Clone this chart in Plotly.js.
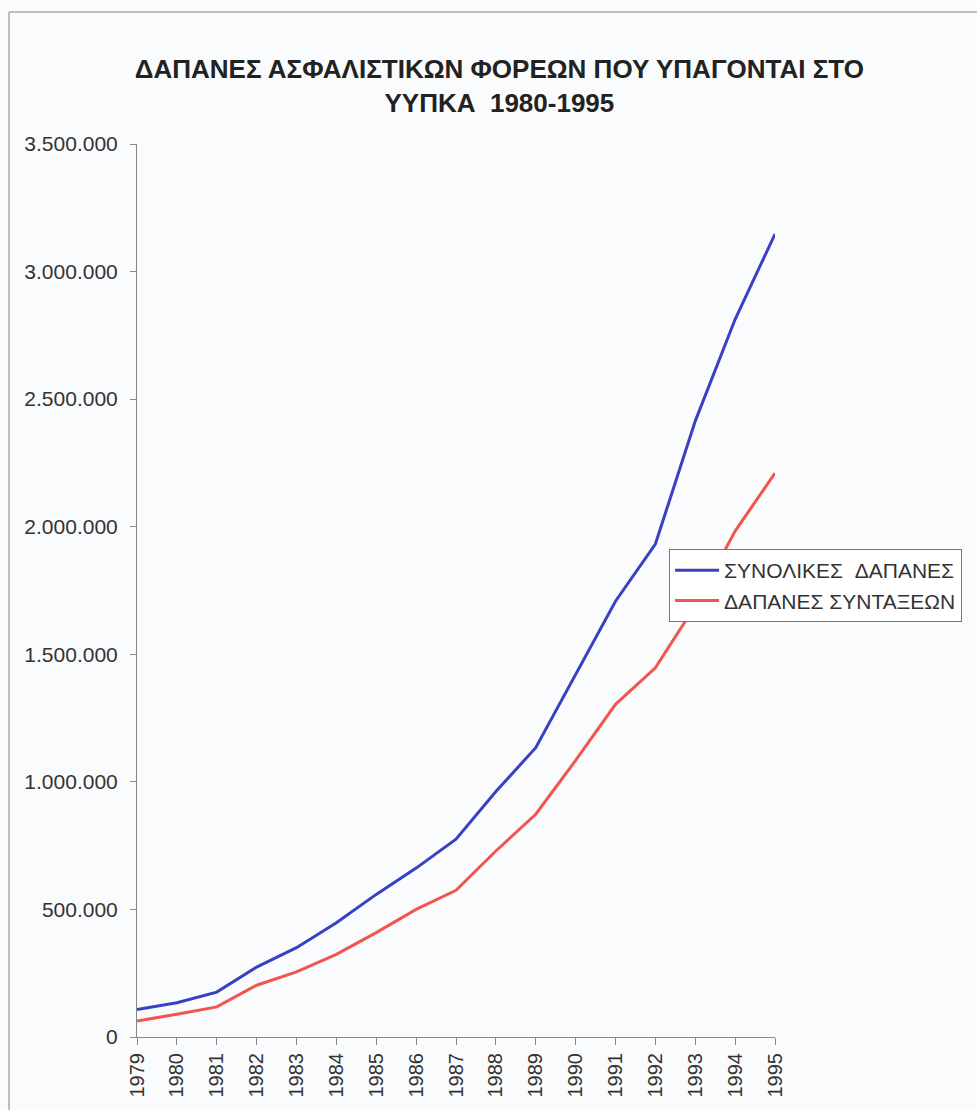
<!DOCTYPE html>
<html>
<head>
<meta charset="utf-8">
<script src="https://cdn.plot.ly/plotly-3.0.1.min.js"></script>
<style>
html,body{margin:0;padding:0;background:#fafbfc;}
#chart{width:977px;height:1110px;}
</style>
</head>
<body>
<div id="chart"></div>
<script>
var years = ["1979","1980","1981","1982","1983","1984","1985","1986","1987","1988","1989","1990","1991","1992","1993","1994","1995"];
var totalExpenses = [108000,134000,176000,274000,350000,448000,559000,662000,775000,962000,1134000,1418000,1708000,1932000,2414000,2813000,3147000];
var pensionExpenses = [63000,89000,118000,203000,255000,324000,409000,500000,575000,729000,873000,1084000,1304000,1447000,1690000,1983000,2210000];
var seriesNames = ["ΣΥΝΟΛΙΚΕΣ\u00a0\u00a0ΔΑΠΑΝΕΣ","ΔΑΠΑΝΕΣ ΣΥΝΤΑΞΕΩΝ"];
var titleText = "ΔΑΠΑΝΕΣ ΑΣΦΑΛΙΣΤΙΚΩΝ ΦΟΡΕΩΝ ΠΟΥ ΥΠΑΓΟΝΤΑΙ ΣΤΟ<br>ΥΥΠΚΑ\u00a0\u00a01980-1995";

var traces = [
  {x: years, y: totalExpenses, name: seriesNames[0], type: 'scatter', mode: 'lines',
   line: {color: '#3a40c4', width: 3}},
  {x: years, y: pensionExpenses, name: seriesNames[1], type: 'scatter', mode: 'lines',
   line: {color: '#f2554d', width: 3}}
];

var layout = {
  width: 977, height: 1110,
  paper_bgcolor: '#fafbfc', plot_bgcolor: 'rgba(0,0,0,0)',
  separators: ',.',
  margin: {l: 137, r: 202, t: 144, b: 73},
  font: {family: 'Liberation Sans, Arial, sans-serif', color: '#333'},
  title: {text: titleText, font: {size: 26, weight: 'bold', color: '#222'},
          x: 0.568, xanchor: 'center', xref: 'paper', y: 1 - 78/1110, yref: 'container', yanchor: 'top'},
  showlegend: true,
  legend: {x: 0.834, xanchor: 'left', y: 0.5465, yanchor: 'top', bgcolor: '#ffffff',
           bordercolor: '#777', borderwidth: 1, font: {size: 21, color: '#333'}, tracegroupgap: 0,
           itemwidth: 44},
  xaxis: {type: 'category', range: [0, 16], showgrid: false, zeroline: false,
          showline: true, linecolor: '#888', linewidth: 1,
          ticks: 'outside', ticklen: 7, tickcolor: '#888', tickangle: -90,
          tickfont: {size: 20, color: '#333'}, automargin: false, fixedrange: true},
  yaxis: {range: [0, 3500000], dtick: 500000, tickformat: ',d', showgrid: false, zeroline: false,
          showline: true, linecolor: '#888', linewidth: 1,
          ticks: 'outside', ticklen: 6, tickcolor: '#888', ticklabelstandoff: 8,
          tickfont: {size: 21, color: '#333'}, automargin: false, fixedrange: true},
  shapes: [
    {type: 'line', xref: 'paper', yref: 'paper', x0: -0.2006, x1: 1.32, y0: 1.1478, y1: 1.1478,
     line: {color: '#aaa', width: 1.5}},
    {type: 'line', xref: 'paper', yref: 'paper', x0: -0.2006, x1: -0.2006, y0: 1.1478, y1: -0.09,
     line: {color: '#aaa', width: 1.5}}
  ]
};

Plotly.newPlot('chart', traces, layout, {displayModeBar: false, staticPlot: true});
</script>
</body>
</html>
